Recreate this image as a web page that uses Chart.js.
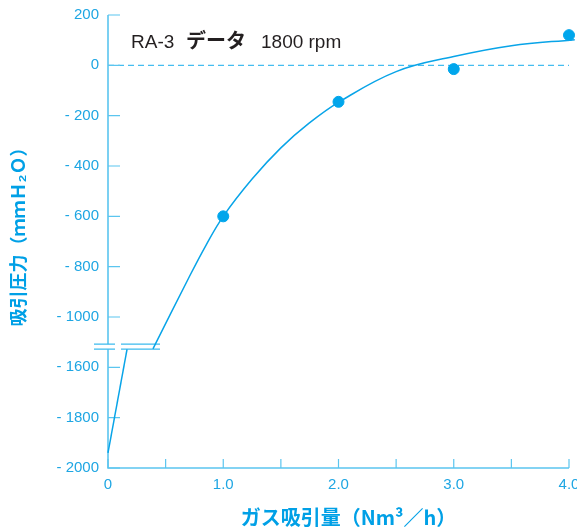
<!DOCTYPE html>
<html>
<head>
<meta charset="utf-8">
<script src="https://cdn.jsdelivr.net/npm/chart.js@4"></script>
<style>
html, body { margin: 0; padding: 0; background: #fff; }
#wrap { width: 577px; height: 529px; position: relative; }
</style>
</head>
<body>
<div id="wrap"><canvas id="myChart"></canvas></div>
<script>
// measured points (flow Nm3/h, suction pressure mmH2O)
var flowX = [1.0, 2.0, 3.0, 4.0];
var pressureY = [-600, -145, -15, 120];
// drawn curve: part above the axis break
var curveX = [0.39, 0.7, 0.85, 1.0, 1.25, 1.5, 1.75, 2.0, 2.5, 3.0, 3.5, 4.05];
var curveY = [-1380, -845, -715, -600, -452, -328, -228, -147, -25, 35, 78, 102];
// part below the break
var lowX = [0, 0.165];
var lowY = [-1940, -1385];

var yTicks = [200, 0, -200, -400, -600, -800, -1000, -1600, -1800, -2000];
var xTicks = [0, 0.5, 1.0, 1.5, 2.0, 2.5, 3.0, 3.5, 4.0];
var xTickLabels = ['0', '', '1.0', '', '2.0', '', '3.0', '', '4.0'];

var FONT = '"Liberation Sans", Arial, "Noto Sans CJK JP", sans-serif';
var cyan = '#00a0e6';
var axisColor = '#5bc5ef';
var labelColor = '#1ea6e3';

// broken y axis: -1000..-1600 squeezed into one 200 step
function toAxis(v) {
    if (v >= -1000) return v;
    if (v <= -1600) return v + 400;
    return -1000 + (v + 1000) / 3;
}
function fromAxis(d) {
    if (d >= -1000) return d;
    if (d <= -1200) return d - 400;
    return -1000 + (d + 1000) * 3;
}
function pts(xs, ys) {
    return xs.map((x, i) => ({x: x, y: toAxis(ys[i])}));
}

var decor = {
    id: 'decor',
    beforeDatasetsDraw(chart) {
        const {ctx, chartArea: a, scales: {x, y}} = chart;
        const yb1 = y.getPixelForValue(-1108), yb2 = y.getPixelForValue(-1128);
        ctx.save();
        // zero line
        ctx.strokeStyle = '#45bdf0';
        ctx.lineWidth = 1.3;
        ctx.setLineDash([6, 4]);
        const y0 = y.getPixelForValue(0);
        ctx.beginPath(); ctx.moveTo(a.left, y0); ctx.lineTo(a.right, y0); ctx.stroke();
        ctx.setLineDash([]);
        // axes
        ctx.strokeStyle = axisColor;
        ctx.lineWidth = 1.6;
        ctx.beginPath();
        ctx.moveTo(a.left, a.top); ctx.lineTo(a.left, yb1);
        ctx.moveTo(a.left, yb2); ctx.lineTo(a.left, a.bottom); ctx.lineTo(a.right, a.bottom);
        ctx.stroke();
        // inner ticks
        ctx.lineWidth = 1.2;
        ctx.beginPath();
        y.ticks.forEach(t => {
            const p = y.getPixelForValue(t.value);
            ctx.moveTo(a.left, p); ctx.lineTo(a.left + 12, p);
        });
        x.ticks.forEach(t => {
            const p = x.getPixelForValue(t.value);
            ctx.moveTo(p, a.bottom); ctx.lineTo(p, a.bottom - 9);
        });
        ctx.stroke();
        // break marks
        ctx.strokeStyle = '#3dbbee';
        ctx.lineWidth = 1.3;
        ctx.beginPath();
        [yb1, yb2].forEach(p => {
            ctx.moveTo(a.left - 14, p); ctx.lineTo(a.left + 7, p);
            ctx.moveTo(a.left + 13, p); ctx.lineTo(a.left + 52, p);
        });
        ctx.stroke();
        ctx.restore();
    },
    afterDraw(chart) {
        const ctx = chart.ctx;
        ctx.save();
        ctx.fillStyle = '#231f20';
        ctx.textBaseline = 'alphabetic';
        ctx.font = '19px ' + FONT;
        ctx.fillText('RA-3', 131, 48);
        ctx.font = 'bold 20px "Noto Sans CJK JP", sans-serif';
        ctx.fillText('データ', 186, 48);
        ctx.font = '19px ' + FONT;
        ctx.fillText('1800 rpm', 261, 48);
        ctx.restore();
    }
};

var ctx = document.getElementById('myChart');
var myChart = new Chart(ctx, {
    type: 'scatter',
    data: {
        datasets: [{
            data: pts(curveX, curveY),
            showLine: true,
            borderColor: '#08a4e8',
            borderWidth: 1.5,
            pointRadius: 0,
            tension: 0.4,
            clip: false
        }, {
            data: pts(lowX, lowY),
            showLine: true,
            borderColor: '#08a4e8',
            borderWidth: 1.5,
            pointRadius: 0,
            clip: false
        }, {
            data: pts(flowX, pressureY),
            backgroundColor: '#00a6ec',
            borderColor: '#00a6ec',
            pointRadius: 5.5,
            clip: false
        }]
    },
    options: {
        responsive: true,
        maintainAspectRatio: false,
        animation: false,
        layout: {padding: {top: 15, right: 8, left: 0, bottom: 0}},
        plugins: {legend: {display: false}, tooltip: {enabled: false}},
        scales: {
            x: {
                type: 'linear', min: 0, max: 4,
                grid: {display: false, drawTicks: false},
                border: {display: false},
                afterBuildTicks: s => { s.ticks = xTicks.map(v => ({value: v})); },
                ticks: {
                    padding: 8, autoSkip: false, maxRotation: 0,
                    color: labelColor, font: {family: FONT, size: 15},
                    callback: (v, i) => xTickLabels[i]
                },
                title: {
                    display: true, text: '　ガス吸引量（Nm³／h）', color: cyan,
                    font: {family: '"Noto Sans CJK JP", sans-serif', size: 20, weight: 'bold'},
                    padding: {top: 0, bottom: 0}
                },
                afterFit: s => { s.height = 61; s.paddingLeft = 0; s.paddingRight = 0; }
            },
            y: {
                type: 'linear', min: toAxis(-2000), max: 200,
                grid: {display: false, drawTicks: false},
                border: {display: false},
                afterBuildTicks: s => { s.ticks = yTicks.map(v => ({value: toAxis(v)})); },
                ticks: {
                    padding: 9, color: labelColor, font: {family: FONT, size: 15},
                    callback: v => {
                        const r = Math.round(fromAxis(v));
                        return r < 0 ? '- ' + (-r) : String(r);
                    }
                },
                title: {
                    display: true, text: '　吸引圧力（ｍｍＨ₂Ｏ）', color: cyan,
                    font: {family: '"Noto Sans CJK JP", sans-serif', size: 18, weight: 'bold'},
                    padding: {top: 7, bottom: 0}
                },
                afterFit: s => { s.width = 108; s.paddingTop = 0; s.paddingBottom = 0; }
            }
        }
    },
    plugins: [decor]
});

window.chart = myChart;
</script>
</body>
</html>
